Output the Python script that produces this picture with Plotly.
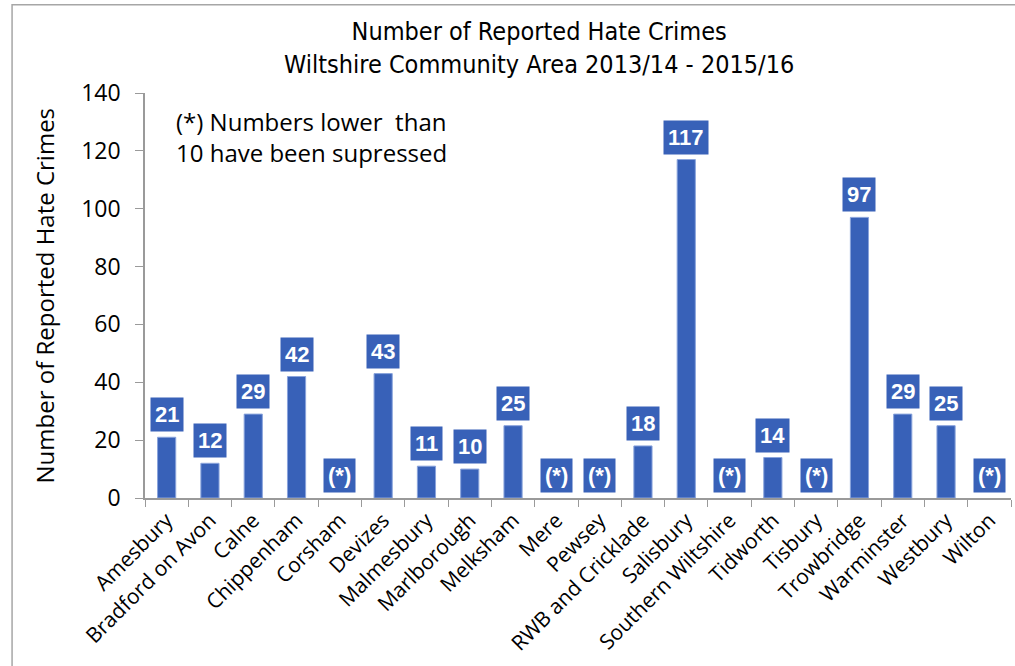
import plotly.graph_objects as go

# Community areas and reported hate crime counts (None = suppressed, fewer than 10)
areas = ["Amesbury", "Bradford on Avon", "Calne", "Chippenham", "Corsham", "Devizes",
         "Malmesbury", "Marlborough", "Melksham", "Mere", "Pewsey", "RWB and Cricklade",
         "Salisbury", "Southern Wiltshire", "Tidworth", "Tisbury", "Trowbridge",
         "Warminster", "Westbury", "Wilton"]
crimes = [21, 12, 29, 42, None, 43, 11, 10, 25, None, None, 18, 117, None, 14, None,
          97, 29, 25, None]
y_ticks = [0, 20, 40, 60, 80, 100, 120, 140]

BLUE = "#3861b8"
TEXT_FONT = "Open Sans, Noto Sans, sans-serif"
heights = [c if c is not None else 0 for c in crimes]
labels = [str(c) if c is not None else "(*)" for c in crimes]
outline = [1 if c is not None else 0 for c in crimes]

fig = go.Figure()
fig.add_trace(go.Bar(
    x=areas, y=heights, width=0.42,
    marker=dict(color=BLUE, line=dict(color="#8aa4dc", width=outline)),
    hoverinfo="x+y",
))

annotations = []
for a, h, lab in zip(areas, heights, labels):
    annotations.append(dict(
        x=a, y=h, xref="x", yref="y", text="<b>%s</b>" % lab,
        showarrow=False, yanchor="bottom", yshift=5,
        bgcolor=BLUE, borderpad=4,
        font=dict(family="Liberation Sans, Arial, sans-serif", size=22, color="white"),
    ))

# Chart title (two lines)
annotations.append(dict(
    x=0.455, y=1.11, xref="paper", yref="paper", xanchor="center", yanchor="middle",
    showarrow=False,
    text="Number of Reported Hate Crimes<br>Wiltshire Community Area 2013/14 - 2015/16",
    font=dict(family="DejaVu Sans Condensed, Liberation Sans Narrow, Arial, sans-serif",
              size=25, color="black"),
))

# Suppression note
annotations.append(dict(
    x=0.033, y=0.975, xref="paper", yref="paper", xanchor="left", yanchor="top",
    align="left", showarrow=False,
    text="(*) Numbers lower  than<br>10 have been supressed",
    font=dict(family=TEXT_FONT, size=24, color="black"),
))

# Y-axis title
annotations.append(dict(
    x=-0.1155, y=0.5, xref="paper", yref="paper", xanchor="center", yanchor="middle",
    textangle=-90, showarrow=False,
    text="Number of Reported Hate Crimes",
    font=dict(family=TEXT_FONT, size=24, color="black"),
))

fig.update_layout(
    width=1015, height=666,
    margin=dict(l=145, r=4, t=93, b=168),
    paper_bgcolor="white", plot_bgcolor="white",
    showlegend=False,
    annotations=annotations,
    shapes=[dict(type="rect", xref="paper", yref="paper",
                 x0=-0.1535, x1=1.2, y0=-1.0, y1=1.218,
                 line=dict(color="#a6a6a6", width=1.5), layer="below")],
)

fig.update_yaxes(
    range=[0, 140], tickvals=y_ticks, showgrid=False, zeroline=False,
    showline=True, linecolor="#9a9a9a", linewidth=1.5,
    ticks="outside", ticklen=8, tickcolor="#9a9a9a", ticklabelstandoff=10,
    tickfont=dict(family=TEXT_FONT, size=23, color="black"),
)
fig.update_xaxes(
    tickangle=-45, showgrid=False, showline=True, linecolor="#9a9a9a", linewidth=1.5,
    ticks="outside", ticklen=7, tickcolor="#9a9a9a", tickson="boundaries",
    tickfont=dict(family=TEXT_FONT, size=21, color="black"),
)

fig.write_html("out.html")
